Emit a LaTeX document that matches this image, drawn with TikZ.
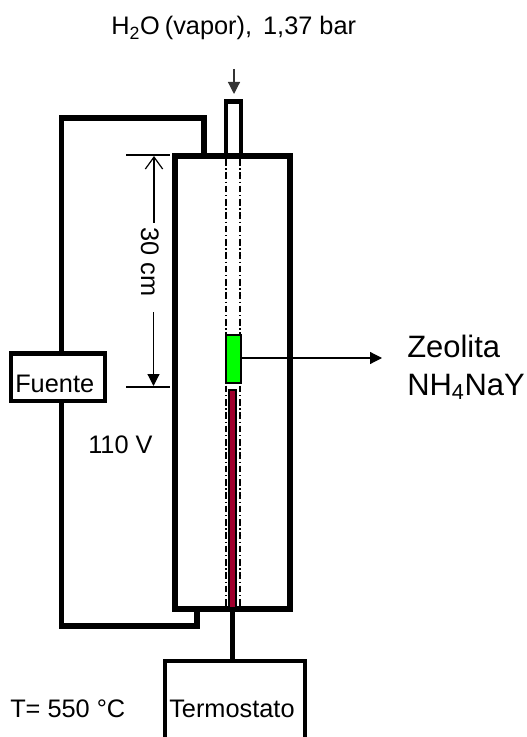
\documentclass[tikz,border=0pt]{standalone}
\usepackage{fontspec}
\setmainfont{Liberation Sans}
\usetikzlibrary{arrows.meta}
\definecolor{resred}{RGB}{160,0,45}
\tikzset{
 x=0.75pt,y=-0.75pt,
 wall/.style={draw=black,line width=4.5pt,line join=miter},
 wire/.style={draw=black,line width=4pt,line join=miter},
 box/.style={draw=black,line width=3.4pt,fill=white,inner sep=0pt,outer sep=0pt,anchor=north west},
 lab/.style={font=\fontsize{19}{22}\selectfont,inner sep=0pt,anchor=base west},
 biglab/.style={font=\fontsize{23.2}{26}\selectfont,inner sep=0pt,anchor=base west},
 dim/.style={draw=black,line width=0.9pt},
 tick/.style={draw=black,line width=1.4pt},
 axis/.style={draw=black,dash pattern=on 5pt off 2pt on 1pt off 2pt},
 solid tip/.style={-{Triangle[length=9pt,width=9pt]}},
 open tip/.style={-{Straight Barb[length=9pt,width=13pt,line width=0.9pt]}},
}
\begin{document}
\begin{tikzpicture}
\useasboundingbox (0,0) rectangle (526,737);
% tube and reactor
\draw[wall,line width=3.4pt] (226,156) -- (226,101.5) -- (241,101.5) -- (241,156);
\node[draw=black,line width=4.5pt,minimum width=115*0.75pt,minimum height=453*0.75pt,inner sep=0pt,outer sep=0pt,anchor=north west] (reactor) at (175,156) {};
% wire from Fuente
\node[box,minimum width=94*0.75pt,minimum height=47.5*0.75pt] (fuente) at (11,353.5) {};
\coordinate (wa) at (204,118);
\coordinate (wb) at (61.5,118);
\coordinate (wc) at (61.5,626);
\coordinate (wd) at (197,626);
\draw[wire] (204,153) -- (wa) -- (wb) -- (fuente.north -| wb);
\draw[wire] (fuente.south -| wc) -- (wc) -- (wd) -- (197,612);
\node[lab] (fuentelab) at (15,392) {Fuente};
% axes
\coordinate (at1) at (226,159);
\coordinate (ab1) at (226,606);
\coordinate (at2) at (240,159);
\coordinate (ab2) at (240,606);
\draw[axis,line width=1.7pt] (at1) -- (ab1);
\draw[axis,line width=0.9pt] (at2) -- (ab2);
% samples
\node[draw=black,line width=1.5pt,fill=green,minimum width=15*0.75pt,minimum height=48*0.75pt,inner sep=0pt,outer sep=0pt,anchor=north west] (zeo) at (226,335) {};
\node[draw=black,line width=1.5pt,fill=resred,minimum width=6.5*0.75pt,minimum height=218*0.75pt,inner sep=0pt,outer sep=0pt,anchor=north west] (res) at (229,389.5) {};
% dimension
\coordinate (t1a) at (126,155);
\coordinate (t1b) at (170,155);
\coordinate (t2a) at (126,387);
\coordinate (t2b) at (170,387);
\coordinate (d1) at (154,223);
\coordinate (d2) at (153.5,312);
\draw[tick] (t1a) -- (t1b);
\draw[tick] (t2a) -- (t2b);
\draw[dim,open tip] (d1) -- (154,156);
\draw[dim,solid tip] (d2) -- (153.5,386);
\node[lab,rotate=-90] (dimlab) at (141,227) {30 cm};
% labels and arrows
\node[biglab] (z1) at (407,357) {Zeolita};
\node[biglab] (z2) at (407,395) {NH\textsubscript{4}NaY};
\coordinate (zend) at (382,358);
\draw[dim,solid tip] (zeo.east |- zend) -- (zend);
\node[lab] (vap) at (111,35) {H\textsubscript{2}O\hspace{-1.5pt} (vapor),\hspace{3pt} 1,37 bar};
\coordinate (in1) at (234,69);
\coordinate (in2) at (234,94);
\draw[dim,draw=black!80,solid tip] (in1) -- (in2);
\node[lab] (v) at (88,453) {110 V};
\node[lab] (temp) at (10,717) {T= 550 °C};
% thermostat
\coordinate (tl) at (165,737);
\coordinate (tr) at (305,737);
\coordinate (tt) at (232.5,661);
\draw[wall,line width=3.4pt] (tl) -- (165,661) -- (305,661) -- (tr);
\draw[wire,line width=3.2pt] (232.5,611) -- (tt);
\node[lab] (term) at (169,717) {Termostato};
\end{tikzpicture}
\end{document}
